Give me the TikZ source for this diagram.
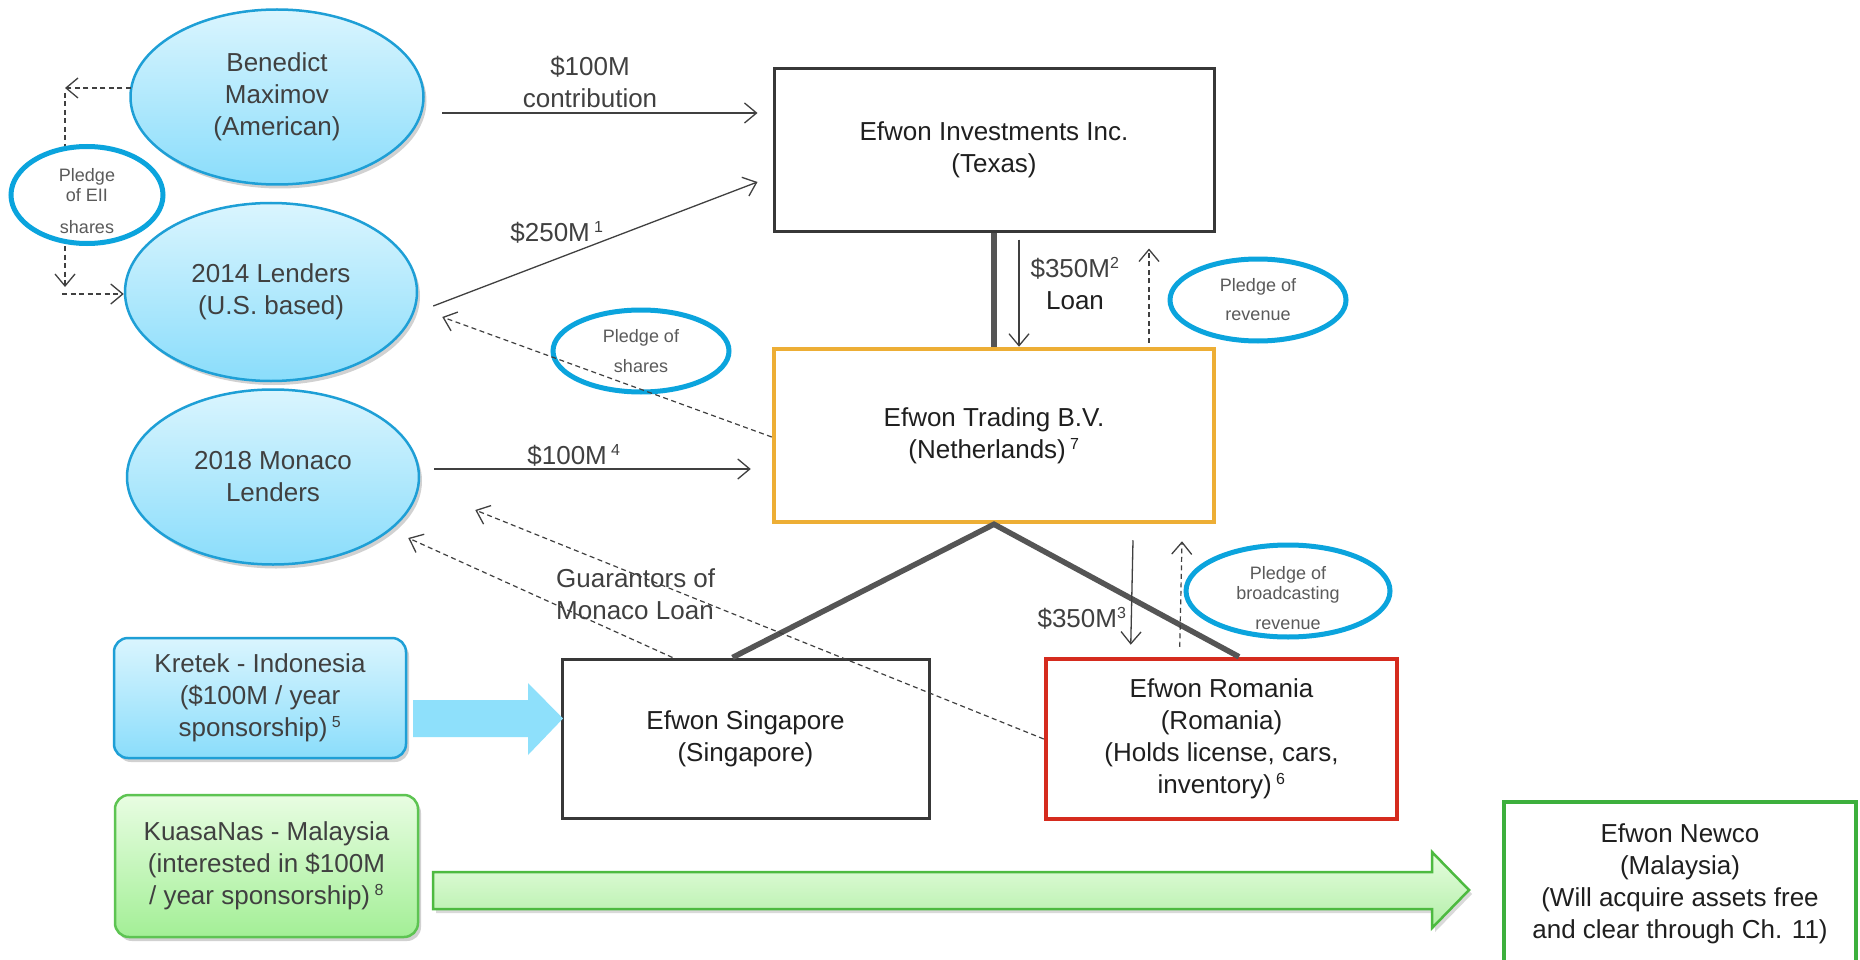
\documentclass[tikz,border=0pt]{standalone}
\usepackage{fontspec}
\setmainfont{Liberation Sans}
\usetikzlibrary{shapes.geometric,arrows.meta,calc,shadows}
\definecolor{bubtop}{HTML}{DAF5FE}
\definecolor{bubbot}{HTML}{8ADDFB}
\definecolor{bubedge}{HTML}{1E9FD6}
\definecolor{pledgeblue}{HTML}{0BA4DD}
\definecolor{blockblue}{HTML}{8EE0FB}
\definecolor{kutop}{HTML}{E8FDE2}
\definecolor{kubot}{HTML}{A3EF96}
\definecolor{kuedge}{HTML}{5DC452}
\definecolor{gartop}{HTML}{E6FDDF}
\definecolor{garbot}{HTML}{B3EFA8}
\definecolor{garedge}{HTML}{4DBA40}
\definecolor{orangeedge}{HTML}{EDAE35}
\definecolor{rededge}{HTML}{D52B1E}
\definecolor{newgreen}{HTML}{3DAF3D}
\definecolor{boxgray}{HTML}{383838}
\definecolor{txtgray}{HTML}{404040}
\definecolor{boxtxt}{HTML}{1F1F1F}
\definecolor{pltxt}{HTML}{5A5A5A}
\definecolor{linegray}{HTML}{404040}
\definecolor{stemgray}{HTML}{555555}
\newcommand\mainsz{\fontsize{26}{32}\selectfont}
\newcommand\smallsz{\fontsize{18}{20}\selectfont}
\newcommand\sups[1]{\textsuperscript{\fontsize{16}{16}\selectfont #1}}
\pgfdeclarelayer{bg}
\pgfsetlayers{bg,main}
\begin{document}
\begin{tikzpicture}[x=1pt,y=-1pt,
  bubble/.style={ellipse, draw=bubedge, line width=2.5pt, top color=bubtop, bottom color=bubbot,
    inner sep=0pt, align=center, text=txtgray, font=\mainsz,
    drop shadow={shadow xshift=3pt, shadow yshift=-4pt, opacity=0.18, fill=black}},
  pledge/.style={ellipse, draw=pledgeblue, line width=5pt, fill=white, inner sep=0pt},
  pltext/.style={align=center, text=pltxt, font=\smallsz},
  boxnode/.style={rectangle, draw=boxgray, line width=3pt, inner sep=0pt, align=center, text=boxtxt, font=\mainsz},
  lbl/.style={align=center, text=txtgray, font=\mainsz, inner sep=0pt},
  thinarr/.style={draw=linegray, line width=1.3pt, -{Straight Barb[length=12pt,width=20pt,line width=1.3pt]}},
  dasharr/.style={thinarr, dash pattern=on 5pt off 3.5pt, line width=1.2pt},
  stem/.style={draw=stemgray, line width=5.5pt}]
\useasboundingbox (0,0) rectangle (1860,960);
\clip (0,0) rectangle (1860,960);
\begin{pgfonlayer}{bg}
\fill[white] (0,0) rectangle (1860,960);
\end{pgfonlayer}

% nodes
\node[bubble, minimum width=293pt, minimum height=175pt] (ben) at (277,97) {Benedict\\Maximov\\(American)};
\node[bubble, minimum width=292pt, minimum height=178pt] (l14) at (271,292) {2014 Lenders\\(U.S. based)};
\node[bubble, minimum width=292pt, minimum height=175pt] (mon) at (273,477) {2018 Monaco\\Lenders};

\node[pledge, minimum width=152pt, minimum height=97pt,
  label={[pltext, yshift=-6pt]center:{Pledge\\of EII\\[12pt]shares}}] (pEII) at (87,195) {};
\node[pledge, minimum width=176pt, minimum height=82pt,
  label={[pltext]center:{Pledge of\\[10pt]shares}}] (pSh) at (641,351) {};
\node[pledge, minimum width=176pt, minimum height=82pt,
  label={[pltext]center:{Pledge of\\[9pt]revenue}}] (pRev) at (1258,300) {};
\node[pledge, minimum width=204pt, minimum height=92pt,
  label={[pltext, yshift=-7pt]center:{Pledge of\\broadcasting\\[10pt]revenue}}] (pBr) at (1288,591) {};

\node[boxnode, minimum width=440pt, minimum height=162pt] (tex) at (994,150) {Efwon Investments Inc.\\(Texas)};
\node[boxnode, draw=orangeedge, line width=4.5pt, minimum width=440pt, minimum height=173pt] (trd) at (994,435.5) {Efwon Trading B.V.\\(Netherlands)\,\sups{7}};
\node[boxnode, minimum width=367pt, minimum height=159pt] (sg) at (745.5,738.5) {Efwon Singapore\\(Singapore)};
\node[boxnode, draw=rededge, line width=4.5pt, minimum width=351pt, minimum height=160pt] (ro) at (1221.5,739) {Efwon Romania\\(Romania)\\(Holds license, cars,\\inventory)\,\sups{6}};

\node[bubble, rectangle, rounded corners=14pt, minimum width=292pt, minimum height=120pt] (kr) at (260,698)
  {Kretek - Indonesia\\(\$100M / year\\sponsorship)\,\sups{5}};
\node[bubble, rectangle, rounded corners=14pt, draw=kuedge, top color=kutop, bottom color=kubot,
  minimum width=303pt, minimum height=142pt] (ku) at (266.5,866)
  {KuasaNas - Malaysia\\(interested in \$100M\\/ year sponsorship)\,\sups{8}};

\node[boxnode, draw=newgreen, line width=4.5pt, minimum width=352pt, minimum height=183pt,
  label={[lbl, text=boxtxt, yshift=10pt]center:{Efwon Newco\\(Malaysia)\\(Will acquire assets free\\and clear through Ch. 11)}}] (nw) at (1680,893.5) {};

% labels
\node[lbl] (lbA) at (590,82) {\$100M\\contribution};
\node[lbl] (lbB) at (557,232) {\$250M\,\sups{1}};
\node[lbl] (lbC) at (574,455) {\$100M\,\sups{4}};
\node[lbl] (lbD) at (1075,284) {\$350M\sups{2}\\\textcolor{boxtxt}{Loan}};
\node[lbl] (lbE) at (1082,618) {\$350M\sups{3}};
\node[lbl, align=left, anchor=west] (lbF) at (556,594) {Guarantors of\\Monaco Loan};

% EII pledge connectors
\coordinate (eTop) at (65,88);
\coordinate (eBot) at (65,294);
\begin{pgfonlayer}{bg}
\draw[dasharr] ($(eTop)+(0,5)$) -- ($(eBot)+(0,-7)$);
\end{pgfonlayer}
\draw[dasharr] ($(ben.west)+(1.5,-9)$) -- (eTop);
\draw[dasharr] ($(eBot)+(-3,0)$) -- ($(l14.west)+(0,2)$);

% ownership lines
\draw[stem] (tex.south) -- (trd.north);
\draw[stem, line join=miter] ($(sg.north)+(-13,0)$) -- (trd.south) -- ($(ro.north)+(17.5,0)$);

% money flows
\draw[thinarr] ($(ben.east)+(17.5,16)$) -- ($(tex.west)+(-15,-37)$);
\draw[thinarr] ($(l14.east)+(15,14)$) -- ($(tex.west)+(-15,32)$);
\draw[thinarr] ($(mon.east)+(14,-8)$) -- ($(trd.west)+(-21,33.5)$);
\draw[thinarr] ($(tex.south)+(25,7)$) -- ($(trd.north)+(25,0)$);
\draw[thinarr] ($(trd.south)+(139,16)$) -- ($(ro.north west)+(87,-12)$);

% pledges / guarantees
\draw[dasharr] ($(trd.west)+(0,1.5)$) -- ($(l14.east)+(24,25)$);
\draw[dasharr] ($(trd.north)+(155,-4)$) -- ($(tex.south)+(155,16)$);
\draw[dasharr] ($(ro.north west)+(136,-10)$) -- ($(trd.south)+(188,17)$);
\draw[dasharr] ($(sg.north west)+(112,0)$) -- ($(mon.east)+(-12,61)$);
\draw[dasharr] (ro.west) -- ($(mon.east)+(55,33)$);

% block arrows
\fill[blockblue] (413,700) -- (528,700) -- (528,683) -- (563,718.5) -- (528,755) -- (528,737) -- (413,737) -- cycle;
\draw[draw=garedge, line width=2.5pt, top color=gartop, bottom color=garbot,
  drop shadow={shadow xshift=3pt, shadow yshift=-4pt, opacity=0.15, fill=black}]
  (433,872) -- (1432,872) -- (1432,852) -- (1469,890) -- (1432,928) -- (1432,909) -- (433,909) -- cycle;
\end{tikzpicture}
\end{document}
